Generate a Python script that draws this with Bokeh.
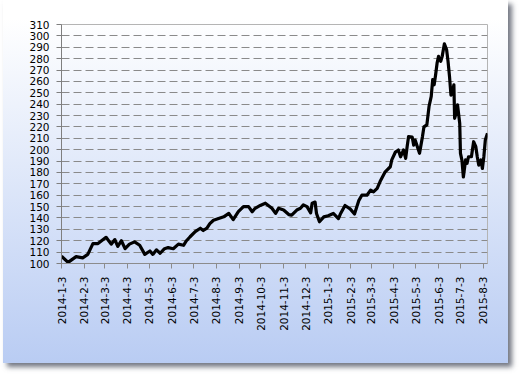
import pandas as pd
from math import pi
from bokeh.plotting import figure
from bokeh.models import FixedTicker, Range1d
from bokeh.embed import file_html
from bokeh.resources import INLINE

dates = [
    "2014-01-03", "2014-01-12", "2014-01-23", "2014-02-01", "2014-02-08", "2014-02-15",
    "2014-02-22", "2014-03-05", "2014-03-12", "2014-03-17", "2014-03-21", "2014-03-26",
    "2014-03-31", "2014-04-06", "2014-04-13", "2014-04-20", "2014-04-27", "2014-05-04",
    "2014-05-08", "2014-05-13", "2014-05-18", "2014-05-24", "2014-05-29", "2014-06-05",
    "2014-06-12", "2014-06-19", "2014-06-23", "2014-06-28", "2014-07-05", "2014-07-12",
    "2014-07-16", "2014-07-21", "2014-07-25", "2014-07-30", "2014-08-06", "2014-08-13",
    "2014-08-20", "2014-08-26", "2014-09-02", "2014-09-09", "2014-09-16", "2014-09-21",
    "2014-09-25", "2014-10-02", "2014-10-09", "2014-10-13", "2014-10-18", "2014-10-23",
    "2014-10-27", "2014-11-03", "2014-11-10", "2014-11-14", "2014-11-21", "2014-11-26",
    "2014-11-30", "2014-12-05", "2014-12-10", "2014-12-12", "2014-12-16", "2014-12-18",
    "2014-12-22", "2014-12-28", "2015-01-03", "2015-01-10", "2015-01-17", "2015-01-20",
    "2015-01-26", "2015-02-02", "2015-02-08", "2015-02-14", "2015-02-18", "2015-02-25",
    "2015-03-02", "2015-03-06", "2015-03-11", "2015-03-15", "2015-03-22", "2015-03-29",
    "2015-03-31", "2015-04-05", "2015-04-09", "2015-04-12", "2015-04-16", "2015-04-19",
    "2015-04-21", "2015-04-23", "2015-04-28", "2015-04-30", "2015-05-02", "2015-05-05",
    "2015-05-08", "2015-05-12", "2015-05-14", "2015-05-18", "2015-05-21", "2015-05-24",
    "2015-05-26", "2015-05-28", "2015-05-30", "2015-06-01", "2015-06-03", "2015-06-06",
    "2015-06-08", "2015-06-11", "2015-06-14", "2015-06-16", "2015-06-18", "2015-06-20",
    "2015-06-22", "2015-06-24", "2015-06-25", "2015-06-27", "2015-06-29", "2015-07-02",
    "2015-07-03", "2015-07-05", "2015-07-07", "2015-07-10", "2015-07-12", "2015-07-14",
    "2015-07-18", "2015-07-21", "2015-07-24", "2015-07-26", "2015-07-28", "2015-07-31",
    "2015-08-02", "2015-08-04", "2015-08-06", "2015-08-09",
]

values = [
    106.4, 101, 106, 105, 108, 117.5,
    117.5, 123, 117, 121, 115, 120,
    113, 117, 119, 116, 108, 111,
    108, 112, 109, 113, 114, 113,
    117, 116, 120, 123.5, 128, 131,
    129, 131, 135, 138, 139.5, 141,
    144, 138.5, 145.5, 150, 150, 145.5,
    148.5, 151, 153, 151, 148.5, 144,
    148.5, 147, 143, 142.5, 147, 148.5,
    151.5, 150, 144.5, 153, 154, 144,
    136.7, 141, 142, 144, 139.5, 144,
    151, 148, 143.5, 155.5, 160, 160,
    164.5, 163, 166, 172, 180.6, 185,
    191, 198, 199.7, 193.8, 199.7, 192.4,
    202.6, 211.5, 211, 204, 208.5, 202.6,
    196.8, 211.5, 220, 221.8, 238, 246.8,
    261.5, 257, 265.9, 276, 282, 277.6,
    282, 293, 288, 277.6, 264.4, 248,
    251, 257, 227.6, 232, 239.4, 223,
    196.8, 190.9, 176, 191, 188, 193.8,
    193.8, 207, 202.6, 193.8, 186.5, 191,
    183.5, 193.8, 208.5, 214.4,
]

tick_dates = [
    "2014-01-03", "2014-02-03", "2014-03-03", "2014-04-03", "2014-05-03", "2014-06-03",
    "2014-07-03", "2014-08-03", "2014-09-03", "2014-10-03", "2014-11-03", "2014-12-03",
    "2015-01-03", "2015-02-03", "2015-03-03", "2015-04-03", "2015-05-03", "2015-06-03",
    "2015-07-03", "2015-08-03",
]
tick_labels = [
    "2014-1-3", "2014-2-3", "2014-3-3", "2014-4-3", "2014-5-3", "2014-6-3",
    "2014-7-3", "2014-8-3", "2014-9-3", "2014-10-3", "2014-11-3", "2014-12-3",
    "2015-1-3", "2015-2-3", "2015-3-3", "2015-4-3", "2015-5-3", "2015-6-3",
    "2015-7-3", "2015-8-3",
]
y_ticks = list(range(100, 311, 10))

start = pd.Timestamp(dates[0])
xs = [(pd.Timestamp(d) - start).days for d in dates]
txs = [(pd.Timestamp(d) - start).days for d in tick_dates]

p = figure(
    width=505, height=363,
    output_backend="svg", toolbar_location=None,
    x_range=Range1d(xs[0], xs[-1]), y_range=Range1d(y_ticks[0], y_ticks[-1]),
    min_border_left=58, min_border_right=21, min_border_top=24, min_border_bottom=100,
    styles={
        "margin-left": "3px",
        "background": "linear-gradient(to bottom, #ffffff 0%, #ffffff 5%, #b9ccf3 100%)",
        "box-shadow": "4px 4px 5px rgba(70,75,90,0.75)",
    },
)
p.border_fill_alpha = 0
p.background_fill_alpha = 0
p.outline_line_color = "#b4b4b4"
p.outline_line_width = 1

p.line(xs, values, line_color="black", line_width=3.2, line_join="round")

# y axis
p.yaxis.ticker = FixedTicker(ticks=y_ticks)
p.yaxis.minor_tick_line_color = None
p.yaxis.axis_line_color = "#7f7f7f"
p.yaxis.major_tick_line_color = "#7f7f7f"
p.yaxis.major_tick_in = 0
p.yaxis.major_tick_out = 5
p.yaxis.major_label_standoff = 7
p.yaxis.major_label_text_font = "DejaVu Sans"
p.yaxis.major_label_text_font_size = "10.5px"
p.yaxis.major_label_text_color = "#000000"

# x axis
p.xaxis.ticker = FixedTicker(ticks=txs)
p.xaxis.major_label_overrides = {t: lab for t, lab in zip(txs, tick_labels)}
p.xaxis.major_label_orientation = pi / 2
p.xaxis.minor_tick_line_color = None
p.xaxis.axis_line_color = "#8c8c8c"
p.xaxis.major_tick_line_color = "#8c8c8c"
p.xaxis.major_tick_in = 0
p.xaxis.major_tick_out = 5
p.xaxis.major_label_standoff = 8
p.xaxis.major_label_text_font = "DejaVu Sans"
p.xaxis.major_label_text_font_size = "10.5px"
p.xaxis.major_label_text_color = "#000000"

# grid
p.xgrid.grid_line_color = None
p.ygrid.ticker = FixedTicker(ticks=y_ticks[1:-1])
p.ygrid.grid_line_color = "#8a8a8a"
p.ygrid.grid_line_dash = "8 4"
p.ygrid.grid_line_width = 1

open("out.html", "w").write(file_html(p, INLINE))
